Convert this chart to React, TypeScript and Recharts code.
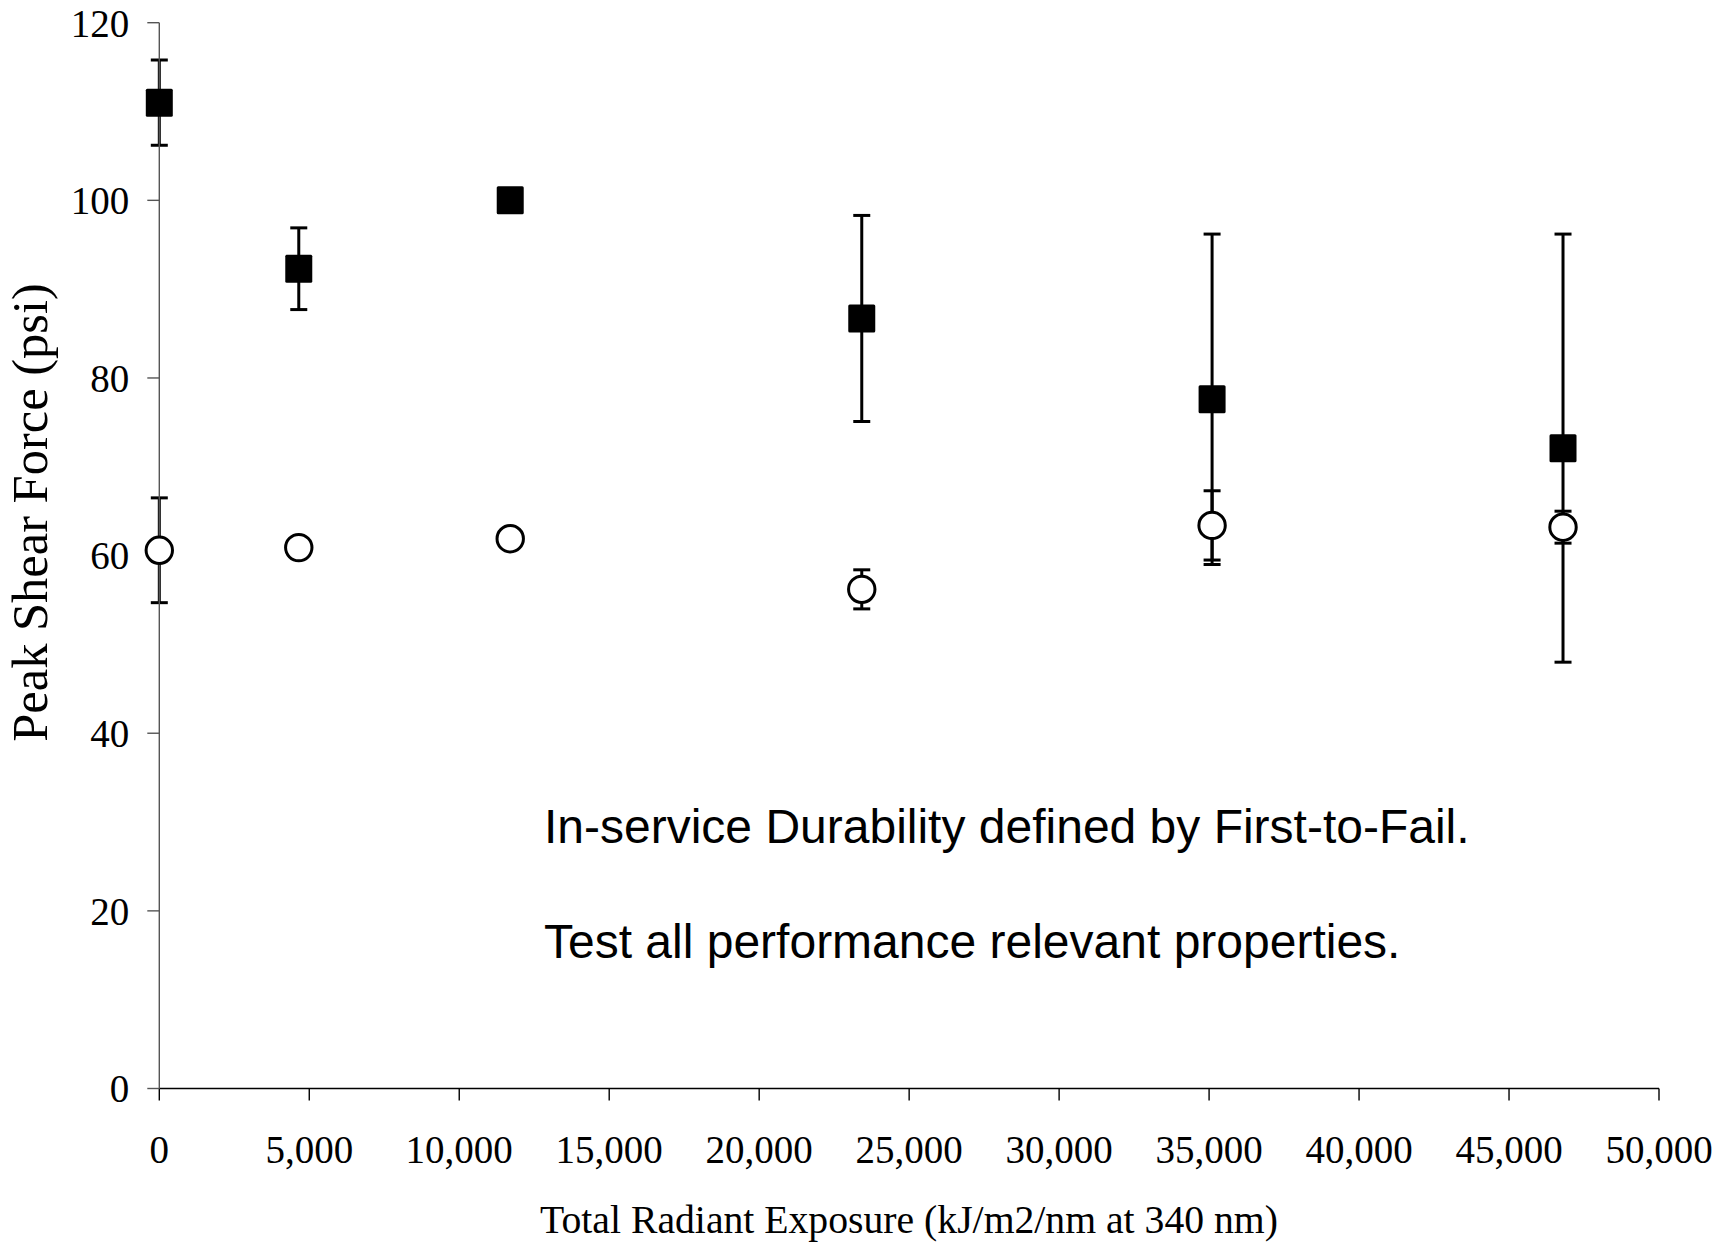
import { ErrorBar, Scatter, ScatterChart, XAxis, YAxis } from "recharts";

// Exposure levels (kJ/m2/nm at 340 nm)
const exposure = [0, 4650, 11700, 23420, 35100, 46800];

// Filled squares: mean peak shear force and its error half-width (psi)
const squareMean = [111.0, 92.3, 100.0, 86.7, 77.6, 72.1];
const squareErr = [4.8, 4.6, 0, 11.6, 18.6, 24.1];

// Open circles: mean peak shear force and its error half-width (psi)
const circleMean = [60.6, 60.9, 61.9, 56.2, 63.4, 63.2];
const circleErr = [5.9, 0, 0, 2.2, 3.9, 1.8];

const xTicks = [0, 5000, 10000, 15000, 20000, 25000, 30000, 35000, 40000, 45000, 50000];
const yTicks = [0, 20, 40, 60, 80, 100, 120];

const notes = [
  "In-service Durability defined by First-to-Fail.",
  "Test all performance relevant properties.",
];

const xTitle = "Total Radiant Exposure (kJ/m2/nm at 340 nm)";
const yTitle = "Peak Shear Force (psi)";

const squares = exposure.map((x, i) => ({ x, y: squareMean[i], err: squareErr[i] }));
const circles = exposure.map((x, i) => ({ x, y: circleMean[i], err: circleErr[i] }));

const SERIF = '"Liberation Serif", "Times New Roman", serif';
const SANS = '"Liberation Sans", Arial, sans-serif';

function SquareMark({ cx, cy }: { cx?: number; cy?: number }) {
  if (cx == null || cy == null) return null;
  return <rect x={cx - 13.5} y={cy - 14} width={27} height={28} rx={1.5} fill="#000" />;
}

function CircleMark({ cx, cy }: { cx?: number; cy?: number }) {
  if (cx == null || cy == null) return null;
  return <circle cx={cx} cy={cy} r={13.2} fill="#fff" stroke="#000" strokeWidth={3} />;
}

const tickStyle = { fill: "#000", fontSize: 39, fontFamily: SERIF };

export default function App() {
  return (
    <div style={{ position: "fixed", left: 0, top: 0, width: 1728, height: 1244, background: "#fff" }}>
      <ScatterChart
        width={1728}
        height={1244}
        margin={{ top: 22.7, right: 69, bottom: 55.5, left: 0 }}
      >
        <XAxis
          type="number"
          dataKey="x"
          domain={[0, 50000]}
          ticks={xTicks}
          interval={0}
          height={100}
          tick={tickStyle}
          tickFormatter={(v: number) => v.toLocaleString("en-US")}
          tickSize={12}
          tickMargin={35}
          axisLine={{ stroke: "#000", strokeWidth: 1.6 }}
          tickLine={{ stroke: "#000", strokeWidth: 1.4 }}
        />
        <YAxis
          type="number"
          dataKey="y"
          domain={[0, 120]}
          ticks={yTicks}
          interval={0}
          width={159.3}
          tick={tickStyle}
          tickSize={12}
          tickMargin={18}
          axisLine={{ stroke: "#555", strokeWidth: 1.4 }}
          tickLine={{ stroke: "#555", strokeWidth: 1.4 }}
        />
        <Scatter data={squares} shape={SquareMark} isAnimationActive={false}>
          <ErrorBar dataKey="err" direction="y" width={8.5} strokeWidth={3} stroke="#000" />
        </Scatter>
        <Scatter data={circles} shape={CircleMark} isAnimationActive={false}>
          <ErrorBar dataKey="err" direction="y" width={8.5} strokeWidth={3} stroke="#000" />
        </Scatter>
        <text x={544} y={843} fontFamily={SANS} fontSize={48} fill="#000">
          {notes[0]}
        </text>
        <text x={544} y={957.5} fontFamily={SANS} fontSize={48} fill="#000">
          {notes[1]}
        </text>
        <text x={909} y={1233} textAnchor="middle" fontFamily={SERIF} fontSize={39.7} fill="#000">
          {xTitle}
        </text>
        <text
          x={47}
          y={512.5}
          textAnchor="middle"
          fontFamily={SERIF}
          fontSize={50.5}
          fill="#000"
          transform="rotate(-90 47 512.5)"
        >
          {yTitle}
        </text>
      </ScatterChart>
    </div>
  );
}
